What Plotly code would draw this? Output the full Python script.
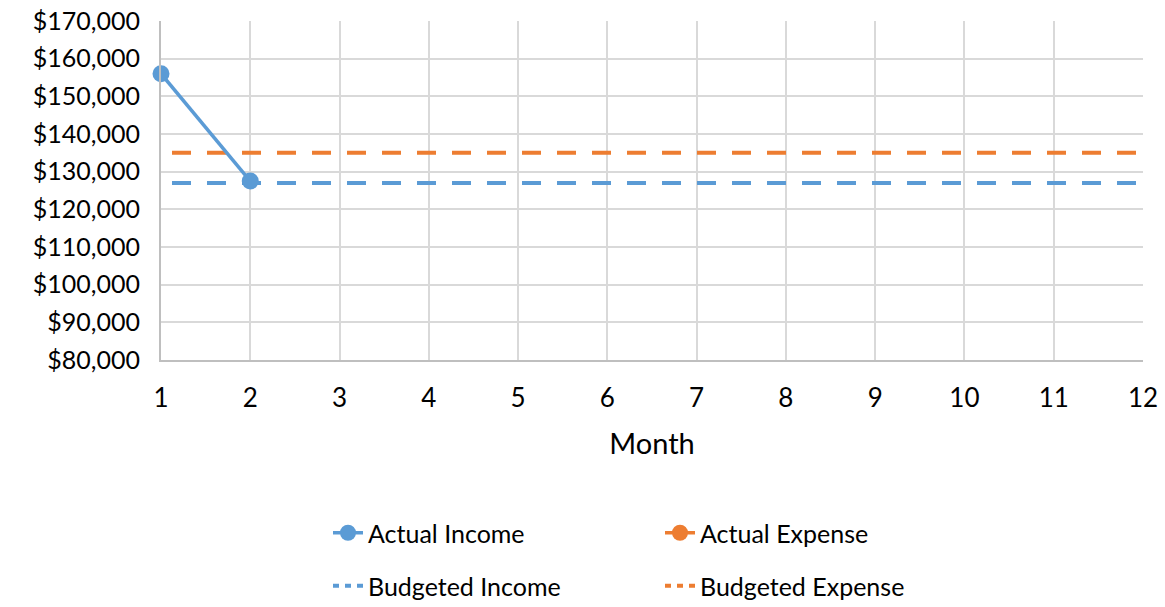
import plotly.graph_objects as go

# Monthly income / expense tracking
months = list(range(1, 13))
actual_income = [156000, 127500] + [None] * 10
actual_expense = [None] * 12
budgeted_income = [127000] * 12
budgeted_expense = [135000] * 12

BLUE = "#5B9BD5"
ORANGE = "#ED7D31"
FONT = "Lato, 'Open Sans', sans-serif"
# dashes start a little after the left edge: empty dash, 11px lead gap,
# then a 19px dash / 16px gap rhythm
DASH = "0px,11px,19px,5px"
# shorter rhythm for the legend swatches so three dashes show
LEGEND_DASH = "6px,6px"

fig = go.Figure()

# plotted budget lines (legend entries come from the swatch traces below)
fig.add_trace(go.Scatter(
    x=months, y=budgeted_income, name="Budgeted Income", mode="lines",
    line=dict(color=BLUE, width=4, dash=DASH), showlegend=False,
    cliponaxis=False))
fig.add_trace(go.Scatter(
    x=months, y=budgeted_expense, name="Budgeted Expense", mode="lines",
    line=dict(color=ORANGE, width=4, dash=DASH), showlegend=False,
    cliponaxis=False))
fig.add_trace(go.Scatter(
    x=months, y=actual_income, name="Actual Income", mode="lines+markers",
    line=dict(color=BLUE, width=3.5), marker=dict(size=17, color=BLUE),
    legend="legend", cliponaxis=False))
fig.add_trace(go.Scatter(
    x=months, y=actual_expense, name="Actual Expense", mode="lines+markers",
    line=dict(color=ORANGE, width=3.5), marker=dict(size=17, color=ORANGE),
    legend="legend", cliponaxis=False))

# legend swatches for the budget lines
fig.add_trace(go.Scatter(
    x=[None], y=[None], name="Budgeted Income", mode="lines",
    line=dict(color=BLUE, width=4, dash=LEGEND_DASH), legend="legend2"))
fig.add_trace(go.Scatter(
    x=[None], y=[None], name="Budgeted Expense", mode="lines",
    line=dict(color=ORANGE, width=4, dash=LEGEND_DASH), legend="legend2"))

legend_common = dict(
    orientation="h", xanchor="left", yanchor="middle",
    xref="container", yref="container", x=328 / 1165,
    font=dict(family=FONT, size=25, color="#000000"),
    entrywidth=287, entrywidthmode="pixels", traceorder="normal",
    bgcolor="rgba(0,0,0,0)",
)

fig.update_layout(
    width=1165, height=607,
    margin=dict(l=161, r=22, t=21, b=247, autoexpand=False),
    paper_bgcolor="white", plot_bgcolor="white",
    font=dict(family=FONT, size=25, color="#000000"),
    showlegend=True,
    legend=dict(y=1 - 533 / 607, **legend_common),
    legend2=dict(y=1 - 586 / 607, **legend_common),
    xaxis=dict(
        range=[1, 12], tickmode="array", tickvals=months,
        showgrid=True, gridcolor="#D9D9D9", gridwidth=1.5,
        showline=True, linecolor="#BFBFBF", linewidth=2,
        zeroline=False, ticks="", ticklabelstandoff=14,
        tickfont=dict(size=26),
        title=dict(text="Month", font=dict(size=29), standoff=21),
    ),
    yaxis=dict(
        range=[80000, 170000], dtick=10000, tick0=80000,
        tickprefix="$", tickformat=",.0f",
        showgrid=True, gridcolor="#D9D9D9", gridwidth=1.5,
        showline=True, linecolor="#BFBFBF", linewidth=2,
        zeroline=False, ticks="", ticklabelstandoff=14,
        tickfont=dict(size=25),
    ),
)

fig.write_html("out.html")
